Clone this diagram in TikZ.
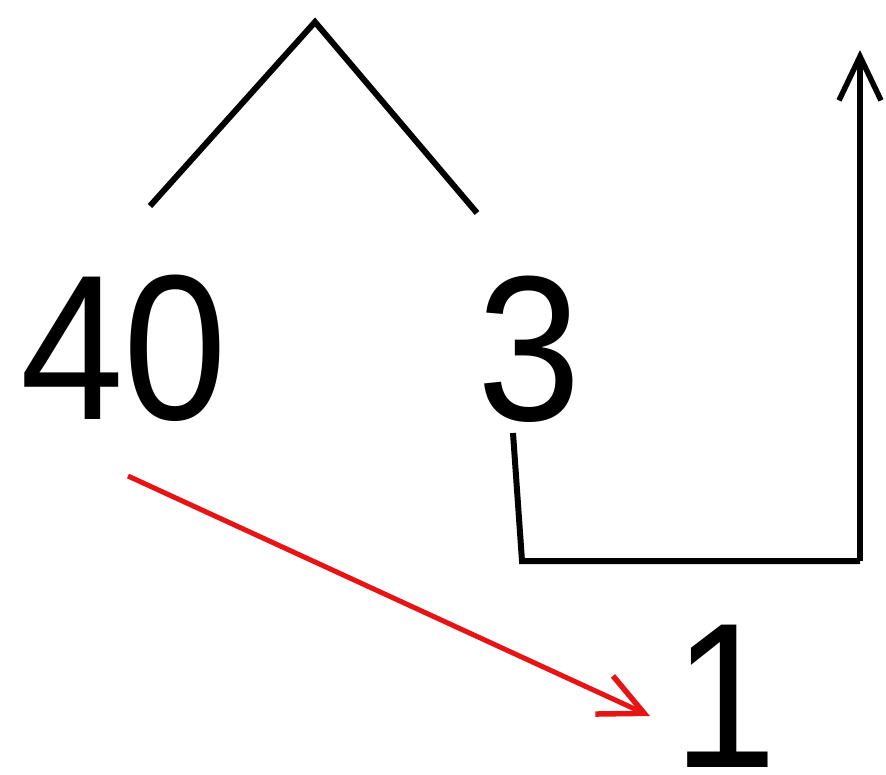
\documentclass[tikz,border=0pt]{standalone}
\usepackage{fontspec}
\usepackage{graphicx}
\setmainfont{Liberation Sans}
\usetikzlibrary{arrows.meta}
\definecolor{arrowred}{RGB}{230,20,20}
\newcommand{\numtext}[1]{\scalebox{0.9}[1]{#1}}
\tikzset{
  num/.style={inner sep=0pt, anchor=base west, text depth=0pt, font=\fontsize{207}{207}\selectfont},
  blk/.style={line width=6pt, black, line cap=butt, line join=miter},
  barb/.style={-{Straight Barb[length=44pt,width=42pt,line width=5.5pt]}},
  redarrow/.style={line width=5pt, arrowred}
}
\begin{document}
\begin{tikzpicture}[x=1pt,y=-1pt]
\useasboundingbox (0,0) rectangle (886,774);
% numbers
\node[num] (forty) at (20,419) {\numtext{40}};
\node[num] (three) at (477,420) {\numtext{3}};
\node[num] (one) at (673,767) {\numtext{1}};
% tree lines
\coordinate (peak) at (315,22);
\coordinate (lend) at (150,206);
\coordinate (rend) at (477,213);
\draw[blk] (lend) -- (peak) -- (rend);
% L path with arrow
\coordinate (ltop) at (513,433);
\coordinate (lcorner) at (522,561);
\coordinate (rcorner) at (860,561);
\coordinate (atip) at (860,50);
\draw[blk] (ltop) -- (lcorner) -- (rcorner);
\draw[blk,barb] (rcorner) -- (atip);
% red arrow
\coordinate (rstart) at (128,476);
\coordinate (rtip) at (650,716);
\draw[redarrow,barb] (rstart) -- (rtip);
\end{tikzpicture}
\end{document}
